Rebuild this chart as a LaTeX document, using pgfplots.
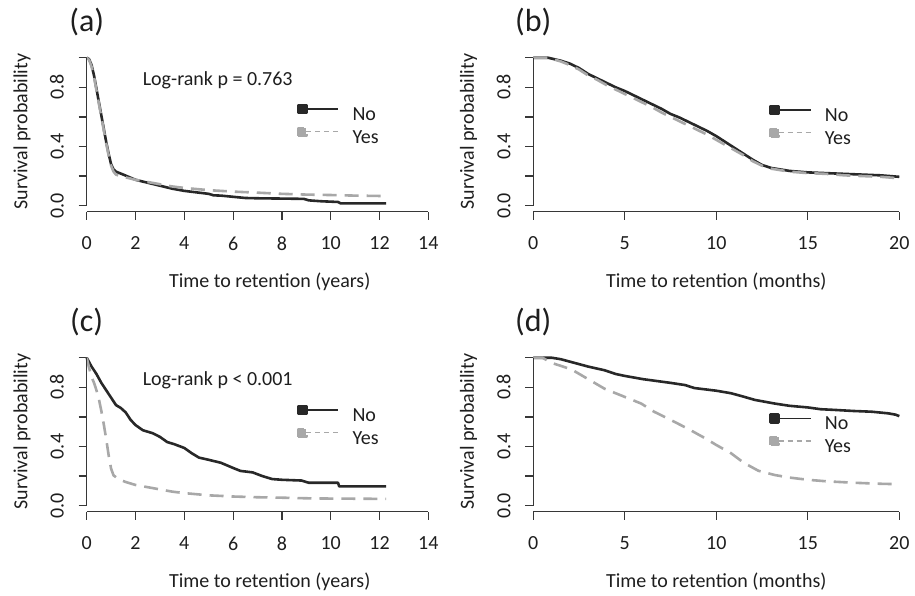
\documentclass[border=0pt]{standalone}
\usepackage{fontspec}
\setmainfont{Carlito}
\usepackage{pgfplots}
\pgfplotsset{compat=1.18}

\definecolor{nocol}{RGB}{40,40,40}
\definecolor{yescol}{RGB}{168,168,168}
\definecolor{axcol}{RGB}{55,55,55}
\definecolor{txt}{RGB}{30,30,30}

\tikzset{axline/.style={axcol, line width=0.65pt}}

\pgfplotsset{
  km/.style={
    anchor=south west,
    scale only axis, width=183pt, height=79.9pt,
    xmin=0, ymin=-0.04, ymax=1.04,
    clip=false,
    axis line style={draw=none},
    tick align=outside, major tick length=4pt,
    tick style={axcol, line width=0.6pt},
    xtick pos=bottom, ytick pos=left,
    ytick={0,0.2,0.4,0.6,0.8,1},
    yticklabels={0.0,{},0.4,{},0.8,{}},
    /pgf/number format/assume math mode=true,
    ticklabel style={font=\fontsize{10}{12}\selectfont, text=txt, inner sep=0pt},
    xticklabel style={anchor=north},
    yticklabel style={rotate=90, anchor=south},
    xticklabel shift=8.5pt, yticklabel shift=7.2pt,
    label style={font=\fontsize{10}{12}\selectfont, text=txt},
    xlabel style={at={([yshift=-35.2pt]axis description cs:0.5,0)}, anchor=center},
    ylabel={Survival probability},
    ylabel style={at={([xshift=-32.35pt]axis description cs:0,0.5)}, anchor=center},
    every axis title/.style={at={([yshift=14.75pt]axis description cs:0,1)},
      anchor=center, inner sep=0pt, font=\fontsize{16}{19}\selectfont, text=txt},
    legend cell align=left,
  },
  kmleg/.style={legend style={at={#1}, anchor=north west, draw=none, fill=none,
      inner sep=0pt, outer sep=0pt, column sep=6.8pt, row sep=1pt,
      font=\fontsize{10}{12}\selectfont,
      nodes={inner sep=0pt, text=txt, text height=6.5pt, text depth=2pt}}},
  noline/.style={color=nocol, line width=1.3pt, line join=round,
    legend image code/.code={
      \draw[nocol, line width=0.6pt] (0pt,3.5pt) -- (18pt,3.5pt);
      \fill[nocol] (-2pt,1.5pt) rectangle (2pt,5.5pt);}},
  yesline/.style={color=yescol, line width=1.3pt, line join=round,
    dash pattern=on 7pt off 4pt,
    legend image code/.code={
      \draw[yescol, line width=0.6pt, dash pattern=on 2.5pt off 2pt] (2pt,3.5pt) -- (18pt,3.5pt);
      \fill[yescol] (-2pt,1.5pt) rectangle (2pt,5.5pt);}},
}

\begin{document}
\begin{tikzpicture}
\path[use as bounding box] (0,0) rectangle (457.5pt,297.5pt);

% (a)
\begin{axis}[km, at={(43.35pt,191.7pt)}, xmax=15,
  xtick={0,2,4,6,8,10,12,14}, title={(a)},
  xlabel={Time to retention (years)}, kmleg={(axis cs:8.62,0.689)}]
\addplot[noline] coordinates {
(0,1)(0.1,0.99)(0.2,0.95)(0.3,0.88)(0.4,0.79)(0.5,0.70)(0.6,0.61)(0.7,0.52)
(0.8,0.43)(0.9,0.35)(1.0,0.28)(1.1,0.245)(1.2,0.23)(1.5,0.21)(2,0.175)
(2.5,0.155)(3,0.135)(3.5,0.115)(4,0.10)(4.5,0.09)(5,0.08)(5.2,0.07)(5.5,0.068)
(6,0.06)(6.5,0.052)(7,0.05)(8,0.048)(8.9,0.046)(9.1,0.036)(9.6,0.03)
(10.3,0.025)(10.4,0.016)(12.27,0.016)};
\addlegendentry{No}
\addplot[yesline] coordinates {
(0,1)(0.1,0.985)(0.2,0.94)(0.3,0.87)(0.4,0.78)(0.5,0.69)(0.6,0.60)(0.7,0.51)
(0.8,0.42)(0.9,0.34)(1.0,0.27)(1.1,0.23)(1.2,0.21)(1.5,0.195)(2,0.175)
(2.5,0.16)(3,0.145)(3.5,0.13)(4,0.12)(5,0.105)(6,0.095)(7,0.088)(8,0.08)
(9,0.075)(10,0.072)(11,0.068)(12.27,0.065)};
\addlegendentry{Yes}
\node[text=txt, font=\fontsize{10}{12}\selectfont] at (axis cs:5.37,0.85) {Log-rank p = 0.763};
\draw[axline] (axis cs:0,-0.04) -- (axis cs:14,-0.04);
\draw[axline] (axis cs:0,0) -- (axis cs:0,1);
\end{axis}

% (b)
\begin{axis}[km, at={(266.65pt,191.7pt)}, xmax=20,
  xtick={0,5,10,15,20}, title={(b)},
  xlabel={Time to retention (months)}, kmleg={(axis cs:12.9,0.682)}]
\addplot[noline] coordinates {
(0,1)(0.8,1)(1.5,0.98)(2,0.96)(2.5,0.93)(3,0.89)(3.5,0.86)(4,0.83)(4.5,0.80)
(5,0.775)(5.5,0.745)(6,0.715)(6.5,0.685)(7,0.655)(7.5,0.62)(8,0.595)
(8.5,0.565)(9,0.535)(9.5,0.505)(10,0.47)(10.5,0.43)(11,0.39)(11.5,0.35)
(12,0.31)(12.5,0.275)(13,0.255)(13.5,0.245)(14,0.235)(15,0.225)(16,0.22)
(17,0.215)(18,0.21)(19,0.205)(20,0.195)};
\addlegendentry{No}
\addplot[yesline] coordinates {
(0,1)(0.8,1)(1.5,0.975)(2,0.95)(2.5,0.92)(3,0.88)(3.5,0.85)(4,0.815)
(4.5,0.785)(5,0.755)(5.5,0.725)(6,0.695)(6.5,0.665)(7,0.63)(7.5,0.60)
(8,0.57)(8.5,0.54)(9,0.51)(9.5,0.48)(10,0.445)(10.5,0.41)(11,0.375)
(11.5,0.34)(12,0.30)(12.5,0.27)(13,0.25)(13.5,0.24)(14,0.23)(15,0.22)
(16,0.215)(17,0.205)(18,0.2)(19,0.195)(20,0.185)};
\addlegendentry{Yes}
\draw[axline] (axis cs:0,-0.04) -- (axis cs:20,-0.04);
\draw[axline] (axis cs:0,0) -- (axis cs:0,1);
\end{axis}

% (c)
\begin{axis}[km, at={(43.35pt,41.7pt)}, xmax=15,
  xtick={0,2,4,6,8,10,12,14}, title={(c)},
  xlabel={Time to retention (years)}, kmleg={(axis cs:8.62,0.682)}]
\addplot[noline] coordinates {
(0,1)(0.1,0.97)(0.2,0.94)(0.4,0.89)(0.6,0.83)(0.8,0.78)(1.0,0.73)(1.2,0.68)
(1.4,0.66)(1.6,0.63)(1.8,0.58)(2.0,0.545)(2.3,0.51)(2.7,0.49)(3.0,0.465)
(3.3,0.43)(3.6,0.415)(4.0,0.39)(4.3,0.355)(4.6,0.325)(5.0,0.31)(5.5,0.29)
(6.0,0.255)(6.3,0.235)(6.8,0.225)(7.2,0.20)(7.6,0.18)(8,0.175)(8.8,0.17)
(9.1,0.155)(10.3,0.155)(10.35,0.13)(12.27,0.13)};
\addlegendentry{No}
\addplot[yesline] coordinates {
(0,1)(0.1,0.93)(0.2,0.87)(0.3,0.83)(0.4,0.78)(0.5,0.72)(0.6,0.64)(0.7,0.55)
(0.8,0.45)(0.9,0.34)(1.0,0.25)(1.1,0.205)(1.3,0.18)(1.6,0.16)(2,0.14)
(2.5,0.125)(3,0.11)(3.5,0.095)(4,0.085)(5,0.07)(6,0.062)(7,0.057)(8,0.054)
(9,0.05)(10,0.048)(12.27,0.046)};
\addlegendentry{Yes}
\node[text=txt, font=\fontsize{10}{12}\selectfont] at (axis cs:5.37,0.85) {Log-rank p < 0.001};
\draw[axline] (axis cs:0,-0.04) -- (axis cs:14,-0.04);
\draw[axline] (axis cs:0,0) -- (axis cs:0,1);
\end{axis}

% (d)
\begin{axis}[km, at={(266.65pt,41.7pt)}, xmax=20,
  xtick={0,5,10,15,20}, title={(d)},
  xlabel={Time to retention (months)}, kmleg={(axis cs:12.9,0.627)}]
\addplot[noline] coordinates {
(0,1)(1,1)(1.5,0.99)(2.1,0.97)(3,0.94)(3.9,0.915)(4.5,0.89)(5,0.877)(6,0.855)
(6.6,0.845)(7.5,0.83)(8.3,0.815)(8.8,0.795)(10,0.777)(10.8,0.76)(11.4,0.74)
(12.1,0.715)(13.2,0.69)(14,0.675)(15,0.664)(15.7,0.652)(16.5,0.647)
(17.5,0.64)(18.5,0.635)(19.4,0.624)(19.8,0.615)(20,0.605)};
\addlegendentry{No}
\addplot[yesline] coordinates {
(0,1)(0.5,1)(1,0.965)(1.5,0.945)(2.1,0.92)(3,0.855)(3.9,0.79)(5,0.735)
(5.9,0.69)(6.6,0.635)(7.5,0.58)(8.45,0.52)(9.4,0.455)(10,0.41)(10.8,0.355)
(11.5,0.29)(12.3,0.236)(13.2,0.207)(14,0.19)(15,0.175)(16,0.165)(17.5,0.155)
(19,0.148)(20,0.145)};
\addlegendentry{Yes}
\draw[axline] (axis cs:0,-0.04) -- (axis cs:20,-0.04);
\draw[axline] (axis cs:0,0) -- (axis cs:0,1);
\end{axis}
\end{tikzpicture}
\end{document}
